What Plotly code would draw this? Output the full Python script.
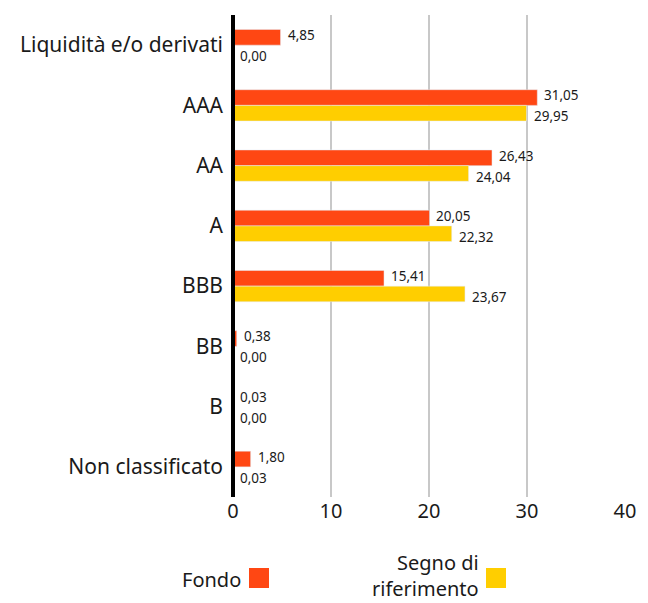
import plotly.graph_objects as go

categories = ["Liquidità e/o derivati", "AAA", "AA", "A", "BBB", "BB", "B", "Non classificato"]
fondo = [4.85, 31.05, 26.43, 20.05, 15.41, 0.38, 0.03, 1.80]
riferimento = [0.00, 29.95, 24.04, 22.32, 23.67, 0.00, 0.00, 0.03]
x_ticks = [0, 10, 20, 30, 40]

C_FONDO = "#FF4713"
C_RIF = "#FFCE00"
FONT = "Noto Sans"
TXT = "#1a1a1a"

L, R, T, B = 233, 23, 15, 106
W, H = 648, 603
PW, PH = W - L - R, H - T - B

def px(xp):
    return (xp - L) / PW

def py(yp):
    return (H - B - yp) / PH

def fmt(v):
    return f"{v:.2f}".replace(".", ",")

fig = go.Figure()
fig.add_trace(go.Bar(
    y=categories, x=fondo, orientation="h", name="Fondo",
    marker_color=C_FONDO,
))
fig.add_trace(go.Bar(
    y=categories, x=riferimento, orientation="h", name="Segno di riferimento",
    marker_color=C_RIF,
))

annotations = []
for cat, v in zip(categories, fondo):
    annotations.append(dict(x=v, y=cat, xref="x", yref="y", text=fmt(v), showarrow=False,
                            xanchor="left", yanchor="middle", xshift=5, yshift=10,
                            font=dict(size=13.5, color=TXT, family=FONT)))
for cat, v in zip(categories, riferimento):
    annotations.append(dict(x=v, y=cat, xref="x", yref="y", text=fmt(v), showarrow=False,
                            xanchor="left", yanchor="middle", xshift=5, yshift=-11,
                            font=dict(size=13.5, color=TXT, family=FONT)))
annotations += [
    dict(text="Fondo", xref="paper", yref="paper", x=px(243), y=py(579),
         xanchor="right", yanchor="middle", showarrow=False,
         font=dict(size=20, color=TXT, family=FONT)),
    dict(text="Segno di<br>riferimento", xref="paper", yref="paper", x=px(481),
         y=py(575), xanchor="right", yanchor="middle", align="right",
         showarrow=False, font=dict(size=20, color=TXT, family=FONT)),
]

fig.update_layout(
    width=W, height=H,
    margin=dict(l=L, r=R, t=T, b=B),
    barmode="group", bargap=0.48, bargroupgap=0,
    plot_bgcolor="white", paper_bgcolor="white",
    showlegend=False,
    font=dict(family=FONT, color=TXT),
    xaxis=dict(range=[0, 40], tickvals=x_ticks, ticktext=[str(t) for t in x_ticks],
               showgrid=True, gridcolor="#C8C8C8", gridwidth=2,
               zeroline=False, showline=False, ticks="", automargin=False,
               tickfont=dict(size=20, color=TXT)),
    yaxis=dict(autorange="reversed", showgrid=False, zeroline=False,
               showline=False, ticks="", ticklabelstandoff=9, automargin=False,
               tickfont=dict(size=21, color=TXT)),
    shapes=[
        dict(type="line", xref="paper", yref="paper", x0=0, x1=0, y0=0, y1=1,
             line=dict(color="black", width=4), layer="above"),
        dict(type="rect", xref="paper", yref="paper",
             x0=px(249), x1=px(269), y0=py(588), y1=py(568),
             fillcolor=C_FONDO, line=dict(width=0)),
        dict(type="rect", xref="paper", yref="paper",
             x0=px(486), x1=px(506), y0=py(588), y1=py(568),
             fillcolor=C_RIF, line=dict(width=0)),
    ],
    annotations=annotations,
)

fig.write_html("out.html", config={"displayModeBar": False},
               post_script="document.body.style.margin='0';document.body.style.overflow='hidden';")
